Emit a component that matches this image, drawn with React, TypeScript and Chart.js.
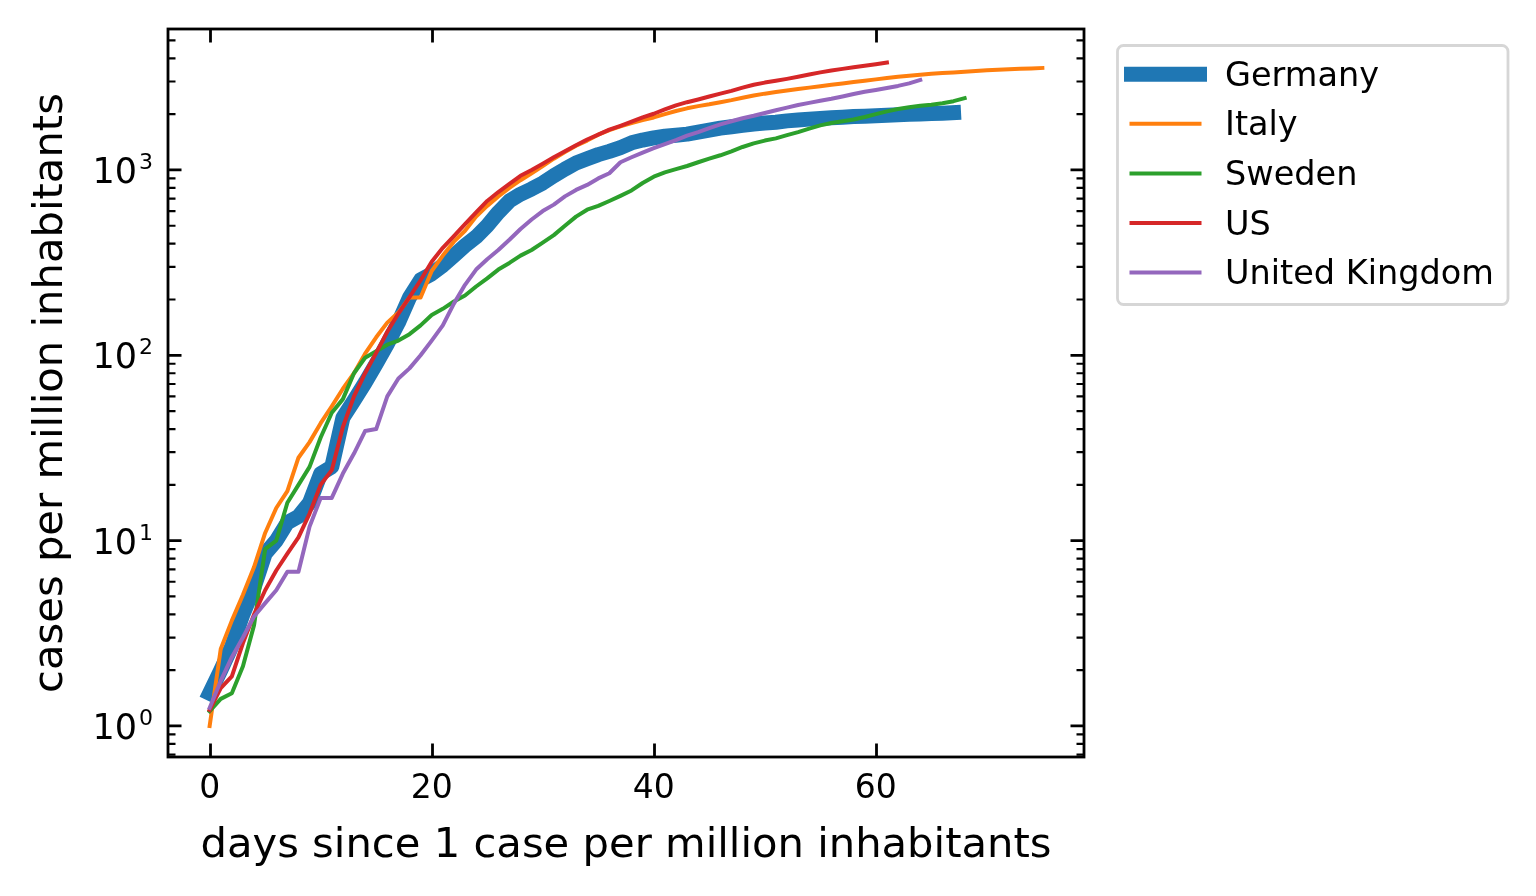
import React, { useEffect, useRef } from "react";
import { Chart, registerables } from "chart.js";

Chart.register(...registerables);

// ---------- data ----------
const countries = ["Germany", "Italy", "Sweden", "US", "United Kingdom"];
const colors = ["#1f77b4", "#ff7f0e", "#2ca02c", "#d62728", "#9467bd"];
const lineWidths = [15, 4, 4, 4, 4];

// values indexed by day since 1 case per million inhabitants (day 0, 1, 2, ...)
const germany = [
  1.5, 2.0, 2.7, 4.0, 5.6, 8.5, 10, 12.5, 13.5, 16,
  23, 25, 46, 57, 71, 90, 115, 150, 205, 255,
  275, 305, 345, 390, 435, 500, 590, 680, 740, 790,
  850, 930, 1010, 1090, 1150, 1210, 1260, 1320, 1400, 1450,
  1490, 1520, 1540, 1560, 1600, 1640, 1680, 1710, 1740, 1770,
  1790, 1810, 1840, 1860, 1880, 1895, 1910, 1925, 1940, 1950,
  1960, 1975, 1985, 1995, 2005, 2015, 2025, 2040,
];
const italy = [
  1.0, 2.6, 3.7, 5.1, 7.2, 11, 15, 18.5, 28, 34,
  43, 53, 66, 80, 102, 125, 150, 170, 205, 205,
  285, 345, 410, 470, 560, 640, 720, 800, 880, 960,
  1050, 1150, 1250, 1350, 1440, 1550, 1640, 1720, 1790, 1860,
  1920, 2000, 2080, 2150, 2210, 2260, 2320, 2380, 2450, 2520,
  2580, 2630, 2680, 2730, 2780, 2830, 2880, 2930, 2980, 3030,
  3080, 3130, 3180, 3220, 3260, 3300, 3330, 3360, 3390, 3420,
  3450, 3470, 3490, 3510, 3530, 3550,
];
const sweden = [
  1.2, 1.4, 1.5, 2.1, 3.5, 9.0, 10, 16, 20, 25,
  36, 49, 58, 80, 97, 105, 114, 120, 130, 145,
  165, 178, 195, 210, 235, 260, 290, 315, 345, 370,
  405, 445, 500, 560, 610, 640, 680, 725, 775, 850,
  920, 970, 1010, 1050, 1100, 1150, 1200, 1260, 1330, 1390,
  1440, 1480, 1540, 1600, 1670, 1740, 1790, 1830, 1870, 1930,
  2000, 2070, 2130, 2180, 2220, 2250, 2290, 2350, 2440,
];
const us = [
  1.22, 1.6, 1.85, 2.8, 4.0, 5.4, 6.9, 8.5, 10.4, 14,
  20, 24, 41, 60, 80, 103, 134, 168, 206, 254,
  320, 380, 440, 510, 590, 680, 760, 840, 930, 1000,
  1080, 1170, 1260, 1360, 1460, 1550, 1650, 1730, 1820, 1920,
  2010, 2120, 2230, 2320, 2400, 2490, 2580, 2670, 2780, 2880,
  2960, 3030, 3100, 3180, 3270, 3360, 3440, 3510, 3580, 3650,
  3720, 3800,
];
const uk = [
  1.25, 1.75, 2.35, 3.0, 3.9, 4.6, 5.4, 6.8, 6.8, 11.9,
  17, 17, 23, 29.5, 39, 40, 60, 75, 85, 100,
  120, 145, 190, 240, 290, 330, 370, 420, 480, 540,
  600, 650, 720, 780, 830, 900, 960, 1100, 1170, 1240,
  1310, 1380, 1450, 1530, 1600, 1680, 1760, 1830, 1900, 1960,
  2030, 2100, 2170, 2240, 2300, 2360, 2420, 2490, 2570, 2640,
  2700, 2770, 2840, 2930, 3060,
];
const series = [germany, italy, sweden, us, uk];

const xTicks = [0, 20, 40, 60];
const yMajorTicks = [1, 10, 100, 1000];
const yTickExponents = ["0", "1", "2", "3"];
const yMinorTicks = [
  0.7, 0.8, 0.9,
  2, 3, 4, 5, 6, 7, 8, 9,
  20, 30, 40, 50, 60, 70, 80, 90,
  200, 300, 400, 500, 600, 700, 800, 900,
  2000, 3000, 4000, 5000,
];
const xTitle = "days since 1 case per million inhabitants";
const yTitle = "cases per million inhabitants";

const FONT = '"DejaVu Sans", "Liberation Sans", sans-serif';

// ---------- plugins ----------
const axesPlugin = {
  id: "mplAxes",
  afterDatasetsDraw(chart: any) {
    const { ctx, chartArea, scales } = chart;
    const xs = scales.x;
    const ys = scales.y;
    const { left, right, top, bottom } = chartArea;
    ctx.save();
    ctx.strokeStyle = "#000";
    ctx.fillStyle = "#000";
    ctx.lineCap = "butt";

    // ticks (inward)
    const major = 13.5;
    const minor = 7.5;
    ctx.lineWidth = 2.8;
    ctx.beginPath();
    xTicks.forEach((v) => {
      const px = Math.round(xs.getPixelForValue(v)) + 0.5;
      ctx.moveTo(px, bottom);
      ctx.lineTo(px, bottom - major);
      ctx.moveTo(px, top);
      ctx.lineTo(px, top + major);
    });
    yMajorTicks.forEach((v) => {
      const py = ys.getPixelForValue(v);
      ctx.moveTo(left, py);
      ctx.lineTo(left + major, py);
      ctx.moveTo(right, py);
      ctx.lineTo(right - major, py);
    });
    ctx.stroke();
    ctx.lineWidth = 2.2;
    ctx.beginPath();
    yMinorTicks.forEach((v) => {
      const py = ys.getPixelForValue(v);
      if (py < top || py > bottom) return;
      ctx.moveTo(left, py);
      ctx.lineTo(left + minor, py);
      ctx.moveTo(right, py);
      ctx.lineTo(right - minor, py);
    });
    ctx.stroke();

    // frame
    ctx.lineWidth = 2.8;
    ctx.strokeRect(left, top, right - left, bottom - top);

    // x tick labels
    ctx.font = `33px ${FONT}`;
    ctx.textAlign = "center";
    ctx.textBaseline = "alphabetic";
    xTicks.forEach((v) => {
      ctx.fillText(String(v), xs.getPixelForValue(v), bottom + 41);
    });

    // y tick labels: 10^n
    yMajorTicks.forEach((v, i) => {
      const py = ys.getPixelForValue(v);
      ctx.font = `35px ${FONT}`;
      const w10 = ctx.measureText("10").width;
      ctx.font = `22px ${FONT}`;
      const we = ctx.measureText(yTickExponents[i]).width;
      const x0 = left - 15 - we - 2 - w10;
      ctx.textAlign = "left";
      ctx.font = `35px ${FONT}`;
      ctx.fillText("10", x0, py + 13);
      ctx.font = `22px ${FONT}`;
      ctx.fillText(yTickExponents[i], x0 + w10 + 2, py - 1);
    });

    // axis titles
    ctx.font = `41.7px ${FONT}`;
    ctx.textAlign = "center";
    ctx.fillText(xTitle, (left + right) / 2, 857);
    ctx.save();
    ctx.translate(62, (top + bottom) / 2);
    ctx.rotate(-Math.PI / 2);
    ctx.fillText(yTitle, 0, 0);
    ctx.restore();

    ctx.restore();
  },
};

const legendPlugin = {
  id: "mplLegend",
  afterDraw(chart: any) {
    const { ctx } = chart;
    const x0 = 1117.5;
    const y0 = 45.5;
    const w = 390.5;
    const h = 259;
    const r = 6;
    ctx.save();
    ctx.beginPath();
    ctx.moveTo(x0 + r, y0);
    ctx.lineTo(x0 + w - r, y0);
    ctx.arcTo(x0 + w, y0, x0 + w, y0 + r, r);
    ctx.lineTo(x0 + w, y0 + h - r);
    ctx.arcTo(x0 + w, y0 + h, x0 + w - r, y0 + h, r);
    ctx.lineTo(x0 + r, y0 + h);
    ctx.arcTo(x0, y0 + h, x0, y0 + h - r, r);
    ctx.lineTo(x0, y0 + r);
    ctx.arcTo(x0, y0, x0 + r, y0, r);
    ctx.closePath();
    ctx.fillStyle = "rgba(255,255,255,0.8)";
    ctx.fill();
    ctx.strokeStyle = "#d6d6d6";
    ctx.lineWidth = 2.8;
    ctx.stroke();

    const datasets = chart.data.datasets;
    ctx.font = `33.5px ${FONT}`;
    ctx.textAlign = "left";
    ctx.textBaseline = "alphabetic";
    datasets.forEach((ds: any, i: number) => {
      const base = 85.7 + i * 49.6;
      const ly = base - 11.5;
      ctx.beginPath();
      ctx.strokeStyle = ds.borderColor;
      ctx.lineWidth = ds.borderWidth;
      ctx.lineCap = "square";
      ctx.moveTo(1131.5, ly);
      ctx.lineTo(1199.5, ly);
      ctx.stroke();
      ctx.fillStyle = "#000";
      ctx.fillText(ds.label, 1225, base);
    });
    ctx.restore();
  },
};

export default function App() {
  const canvasRef = useRef<HTMLCanvasElement | null>(null);

  useEffect(() => {
    if (!canvasRef.current) return;
    const datasets = countries.map((name, i) => ({
      label: name,
      data: series[i].map((v, d) => ({ x: d, y: v })),
      borderColor: colors[i],
      backgroundColor: colors[i],
      borderWidth: lineWidths[i],
      borderCapStyle: "square" as const,
      borderJoinStyle: "round" as const,
      pointRadius: 0,
      pointHoverRadius: 0,
      tension: 0,
      fill: false,
      order: countries.length - 1 - i,
    }));

    const chart = new Chart(canvasRef.current, {
      type: "line",
      data: { datasets },
      options: {
        responsive: false,
        animation: false,
        devicePixelRatio: 1,
        events: [],
        layout: { padding: { left: 0, top: 29, right: 452, bottom: 0 } },
        plugins: {
          legend: { display: false },
          tooltip: { enabled: false },
          title: { display: false },
        },
        scales: {
          x: {
            type: "linear",
            min: -3.75,
            max: 78.75,
            grid: { display: false, drawTicks: false },
            border: { display: false },
            ticks: { display: false },
            afterFit: (s: any) => {
              s.height = 139;
            },
          },
          y: {
            type: "logarithmic",
            min: 0.68,
            max: 5760,
            grid: { display: false, drawTicks: false },
            border: { display: false },
            ticks: { display: false },
            afterFit: (s: any) => {
              s.width = 168;
            },
          },
        },
      },
      plugins: [axesPlugin, legendPlugin],
    });
    return () => chart.destroy();
  }, []);

  return (
    <div style={{ position: "fixed", left: 0, top: 0, width: 1536, height: 896, background: "#fff" }}>
      <canvas ref={canvasRef} width={1536} height={896} style={{ display: "block" }} />
    </div>
  );
}
